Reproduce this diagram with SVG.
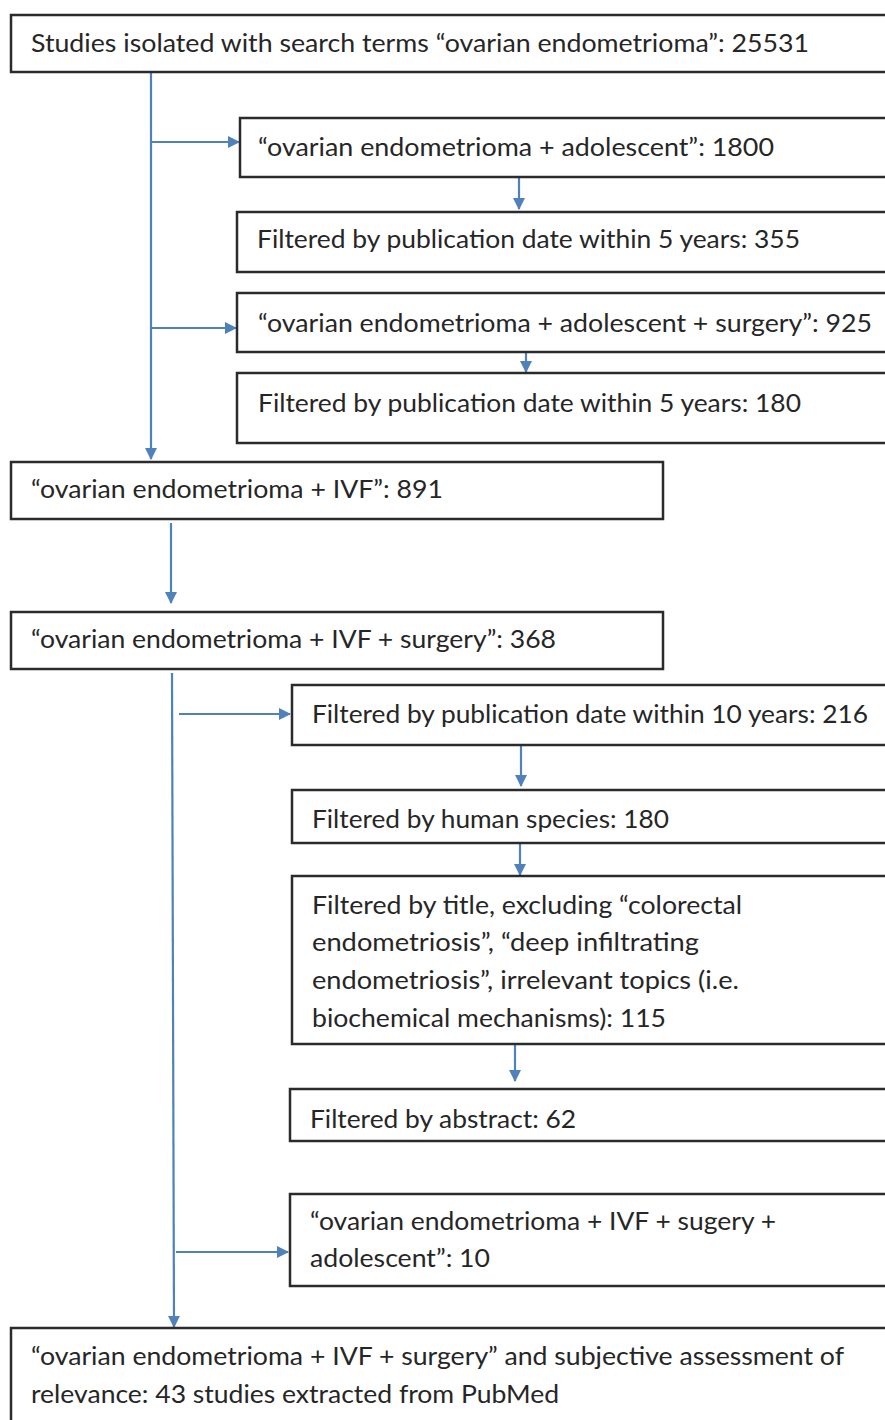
<svg xmlns="http://www.w3.org/2000/svg" width="885" height="1420" viewBox="0 0 885 1420">
<style>
.box{fill:#ffffff;stroke:#2b2b2b;stroke-width:2.5}
.t{font-family:Lato,"Liberation Sans",sans-serif;font-size:25.5px;fill:#262626}
.c{stroke:#4f81bd;stroke-width:2.2;fill:none}
</style>
<defs>
<marker id="ah" markerWidth="12" markerHeight="12" refX="11" refY="6" orient="auto" markerUnits="userSpaceOnUse">
<path d="M0,0 L12,6 L0,12 Z" fill="#4f81bd"/>
</marker>
</defs>
<rect width="885" height="1420" fill="#ffffff"/>
<g id="connectors">
<path class="c" d="M151,72 V459" marker-end="url(#ah)"/>
<path class="c" d="M151,142 H239" marker-end="url(#ah)"/>
<path class="c" d="M151,328 H236" marker-end="url(#ah)"/>
<path class="c" d="M519,177 V209" marker-end="url(#ah)"/>
<path class="c" d="M526,352 V372" marker-end="url(#ah)"/>
<path class="c" d="M171,523 V603" marker-end="url(#ah)"/>
<path class="c" d="M172,673 L174,1327" marker-end="url(#ah)"/>
<path class="c" d="M179,714 H290" marker-end="url(#ah)"/>
<path class="c" d="M521,745 V786" marker-end="url(#ah)"/>
<path class="c" d="M520,843 V875" marker-end="url(#ah)"/>
<path class="c" d="M515,1044 V1081" marker-end="url(#ah)"/>
<path class="c" d="M176,1252 H288" marker-end="url(#ah)"/>
</g>
<g id="n1"><rect class="box" x="11" y="15" width="890" height="57"/><text class="t" x="31" y="52" textLength="778" lengthAdjust="spacingAndGlyphs">Studies isolated with search terms “ovarian endometrioma”: 25531</text></g>
<g id="n2"><rect class="box" x="240" y="118" width="660" height="59"/><text class="t" x="258" y="156" textLength="516" lengthAdjust="spacingAndGlyphs">“ovarian endometrioma + adolescent”: 1800</text></g>
<g id="n3"><rect class="box" x="237" y="212" width="660" height="60"/><text class="t" x="257" y="248" textLength="543" lengthAdjust="spacingAndGlyphs">Filtered by publication date within 5 years: 355</text></g>
<g id="n4"><rect class="box" x="237" y="293" width="660" height="59"/><text class="t" x="258" y="332" textLength="614" lengthAdjust="spacingAndGlyphs">“ovarian endometrioma + adolescent + surgery”: 925</text></g>
<g id="n5"><rect class="box" x="237" y="373" width="660" height="70"/><text class="t" x="258" y="412" textLength="543" lengthAdjust="spacingAndGlyphs">Filtered by publication date within 5 years: 180</text></g>
<g id="n6"><rect class="box" x="11" y="462" width="652" height="57"/><text class="t" x="31" y="498" textLength="412" lengthAdjust="spacingAndGlyphs">“ovarian endometrioma + IVF”: 891</text></g>
<g id="n7"><rect class="box" x="11" y="612" width="652" height="57"/><text class="t" x="31" y="648" textLength="525" lengthAdjust="spacingAndGlyphs">“ovarian endometrioma + IVF + surgery”: 368</text></g>
<g id="n8"><rect class="box" x="292" y="685" width="610" height="60"/><text class="t" x="312" y="723" textLength="556" lengthAdjust="spacingAndGlyphs">Filtered by publication date within 10 years: 216</text></g>
<g id="n9"><rect class="box" x="292" y="790" width="610" height="53"/><text class="t" x="312" y="828" textLength="357" lengthAdjust="spacingAndGlyphs">Filtered by human species: 180</text></g>
<g id="n10"><rect class="box" x="292" y="876" width="610" height="168"/>
<text class="t" x="312" y="914" textLength="430" lengthAdjust="spacingAndGlyphs">Filtered by title, excluding “colorectal</text>
<text class="t" x="312" y="951" textLength="387" lengthAdjust="spacingAndGlyphs">endometriosis”, “deep infiltrating</text>
<text class="t" x="312" y="989" textLength="427" lengthAdjust="spacingAndGlyphs">endometriosis”, irrelevant topics (i.e.</text>
<text class="t" x="312" y="1027" textLength="354" lengthAdjust="spacingAndGlyphs">biochemical mechanisms): 115</text></g>
<g id="n11"><rect class="box" x="290" y="1089" width="610" height="52"/><text class="t" x="310" y="1128" textLength="266" lengthAdjust="spacingAndGlyphs">Filtered by abstract: 62</text></g>
<g id="n12"><rect class="box" x="290" y="1194" width="610" height="92"/>
<text class="t" x="310" y="1230" textLength="466" lengthAdjust="spacingAndGlyphs">“ovarian endometrioma + IVF + sugery +</text>
<text class="t" x="310" y="1267" textLength="180" lengthAdjust="spacingAndGlyphs">adolescent”: 10</text></g>
<g id="n13"><rect class="box" x="11" y="1328" width="890" height="110"/>
<text class="t" x="31" y="1365" textLength="813" lengthAdjust="spacingAndGlyphs">“ovarian endometrioma + IVF + surgery” and subjective assessment of</text>
<text class="t" x="31" y="1403" textLength="528" lengthAdjust="spacingAndGlyphs">relevance: 43 studies extracted from PubMed</text></g>
</svg>
